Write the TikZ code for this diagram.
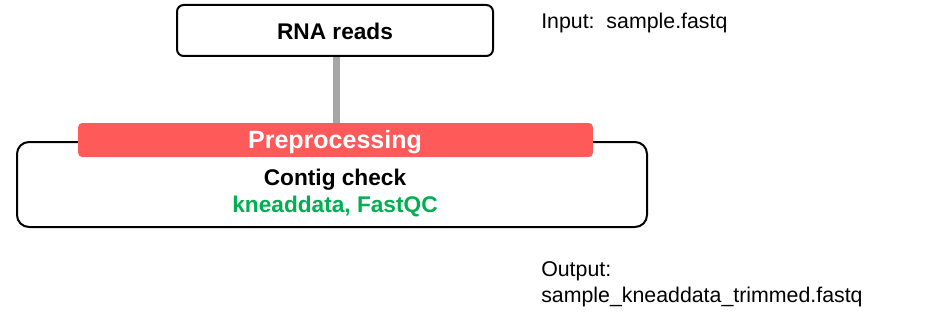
\documentclass[tikz,border=0pt]{standalone}
\usepackage{fontspec}
\setmainfont{Liberation Sans}
\usepackage{xcolor}
\usetikzlibrary{positioning}
\definecolor{barred}{HTML}{FF5A5A}
\definecolor{toolgreen}{HTML}{00B050}
\definecolor{linkgray}{HTML}{A6A6A6}

\begin{document}
\begin{tikzpicture}[x=0.75pt,y=-0.75pt,
    stagebox/.style={draw=black, line width=1.5pt, rounded corners=#1, inner sep=0pt},
    stagebox/.default=5pt,
    titlebar/.style={fill=barred, rounded corners=3pt, inner sep=0pt, minimum width=386pt, minimum height=25.5pt},
    bigtext/.style={font=\fontsize{17}{20}\selectfont\bfseries, inner sep=0pt},
    filetext/.style={font=\fontsize{16}{19.5}\selectfont, inner sep=0pt, anchor=north west, align=left}]
            \useasboundingbox (0,0) rectangle (930,321);
            % Input reads
            \node[stagebox, minimum width=237pt, minimum height=38.25pt] (reads) at (335,30.5) {};
            \node[bigtext] (readslabel) at (335,31.5) {RNA reads};

            % Preprocessing stage
            \node[stagebox=9pt, minimum width=472.5pt, minimum height=63.75pt] (stage) at (332,184.5) {};
            \node[titlebar] (bar) at (335.5,140) {};
            \draw[linkgray, line width=5.25pt] ([xshift=1pt]reads.south) -- ([xshift=1pt]reads.south |- bar.north);
            \node[bigtext, font=\fontsize{18.75}{22}\selectfont\bfseries, text=white] (barlabel) at (335,142) {Preprocessing};
            \node[bigtext] (step1) at (335,180) {Contig check};
            \node[bigtext, text=toolgreen] (tools1) at (335,207) {kneaddata, FastQC};

            % Files
            \node[filetext] (infile) at (541,12.5) {Input:\ \ sample.fastq};
            \node[filetext] (outfile) at (541,261) {Output:\\sample\_kneaddata\_trimmed.fastq};
        \end{tikzpicture}
\end{document}
